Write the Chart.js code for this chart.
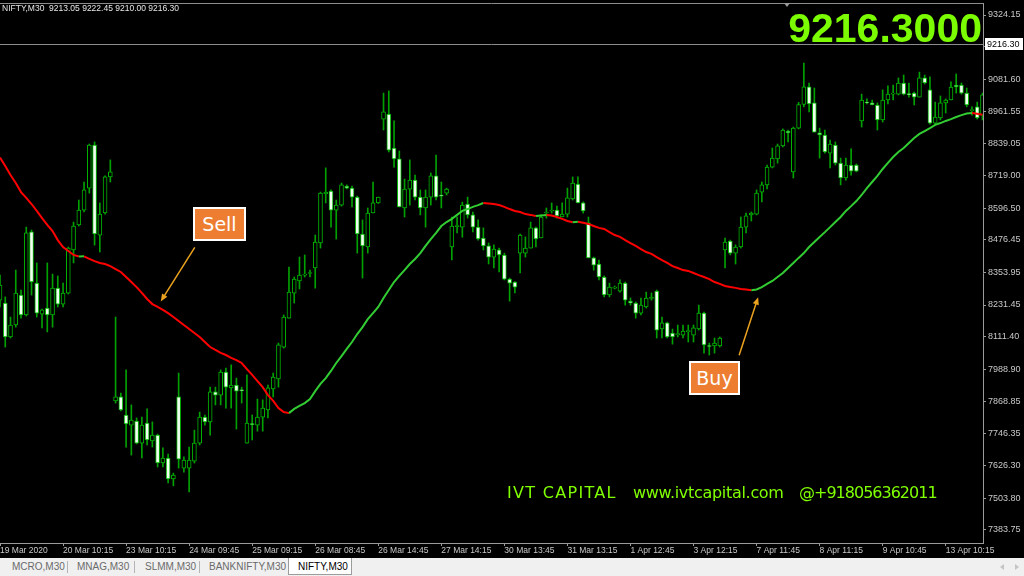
<!DOCTYPE html>
<html>
<head>
<meta charset="utf-8">
<title>NIFTY,M30</title>
<script src="https://cdn.jsdelivr.net/npm/chart.js@4.4.0/dist/chart.umd.min.js"></script>
<style>
  html, body { margin: 0; padding: 0; background: #000; }
  #wrap { position: relative; width: 1024px; height: 576px; overflow: hidden; background: #000;
          font-family: "Liberation Sans", Arial, sans-serif; }
  #chart { position: absolute; left: 0; top: 0; }
  .ov { position: absolute; pointer-events: none; white-space: pre; }
  #head { left: 2px; top: 3px; font-size: 8.5px; line-height: 11px; color: #e6e6e6; }
  #big { right: 42px; top: 8px; font-size: 41px; line-height: 41px; font-weight: bold; color: #7cfc00; }
  #shift { left: 784px; top: 3px; width: 0; height: 0; border-left: 3px solid transparent;
           border-right: 3px solid transparent; border-top: 4px solid #9a9a9a; }
  .tag { background: #ed7d31; border: 2px solid #fff; color: #fff; font-family: "DejaVu Sans", sans-serif;
         font-size: 19px; text-align: center; box-sizing: border-box; height: 34px; line-height: 30px; }
  #sell { left: 193px; top: 207px; width: 53px; }
  #buy { left: 689px; top: 361px; width: 51px; }
  .brand { top: 484px; font-family: "DejaVu Sans", sans-serif; font-size: 16px; line-height: 18px; color: #80ff00; }
  #tabs { position: absolute; left: 0; top: 558px; width: 1024px; height: 18px; background: #f0f0f0;
          font-size: 10px; color: #6a6a6a; }
  #tabs span { position: absolute; top: 3px; line-height: 12px; }
  #tabs .sep { position: absolute; top: 3px; width: 1px; height: 12px; background: #b4b4b4; }
  #tabs .active { position: absolute; left: 288px; top: 0; width: 62px; height: 16px; background: #fff;
                  border: 1px solid #9c9c9c; border-top: none; }
  #tabs .nav { position: absolute; top: 6px; width: 0; height: 0; border-top: 3px solid transparent;
               border-bottom: 3px solid transparent; }
</style>
</head>
<body>
<div id="wrap">
  <canvas id="chart" width="1024" height="558"></canvas>
  <div class="ov" id="head">NIFTY,M30  9213.05 9222.45 9210.00 9216.30</div>
  <div class="ov" id="big">9216.3000</div>
  <div class="ov" id="shift"></div>
  <div class="ov tag" id="sell">Sell</div>
  <div class="ov tag" id="buy">Buy</div>
  <div class="ov brand" style="left:507px;letter-spacing:1.3px">IVT CAPITAL</div>
  <div class="ov brand" style="left:633px;letter-spacing:-0.3px">www.ivtcapital.com</div>
  <div class="ov brand" style="left:799px;letter-spacing:-1px">@+918056362011</div>
  <div id="tabs">
    <span style="left:12px">MCRO,M30</span>
    <div class="sep" style="left:67px"></div>
    <span style="left:77px">MNAG,M30</span>
    <div class="sep" style="left:134px"></div>
    <span style="left:145px">SLMM,M30</span>
    <div class="sep" style="left:199px"></div>
    <span style="left:209px">BANKNIFTY,M30</span>
    <div class="active"></div>
    <span style="left:298px;color:#000">NIFTY,M30</span>
    <div class="nav" style="left:1000px;border-right:4px solid #c4c4c4"></div>
    <div class="nav" style="left:1015px;border-left:4px solid #c4c4c4"></div>
  </div>
</div>
<script>
// NIFTY M30 candles, 19 Mar - 13 Apr 2020
const opens = [
  8250, 8239, 8111, 8156, 8269, 8194, 8507, 8314, 8197, 8220,
  8194, 8295, 8235, 8276, 8439, 8533, 8589, 8672, 8834, 8495,
  8578, 8714, 7870, 7885, 7817, 7779, 7794, 7711, 7787, 7719,
  7741, 7636, 7655, 7576, 7885, 7617, 7617, 7643, 7711, 7809,
  7791, 7904, 7892, 7979, 7919, 7930, 7912, 7711, 7785, 7779,
  7809, 7836, 7915, 7953, 8073, 8182, 8276, 8322, 8344, 8350,
  8371, 8465, 8651, 8661, 8589, 8608, 8680, 8672, 8638, 8499,
  8450, 8578, 8616, 8932, 8951, 8823, 8782, 8597, 8668, 8702,
  8638, 8597, 8638, 8718, 8646, 8653, 8450, 8527, 8525, 8612,
  8571, 8525, 8484, 8454, 8412, 8439, 8420, 8329, 8318, 8427,
  8427, 8446, 8522, 8484, 8578, 8586, 8589, 8563, 8574, 8631,
  8687, 8616, 8541, 8409, 8386, 8337, 8269, 8295, 8284, 8314,
  8246, 8239, 8201, 8224, 8256, 8284, 8141, 8164, 8126, 8120,
  8118, 8131, 8118, 8141, 8201, 8079, 8077, 8077, 8439, 8472,
  8427, 8450, 8525, 8571, 8574, 8657, 8684, 8751, 8782, 8831,
  8887, 8733, 8898, 8987, 9054, 8993, 8880, 8872, 8804, 8834,
  8766, 8710, 8759, 8759, 8925, 8996, 8993, 8985, 8929, 9004,
  9026, 9026, 9068, 9028, 9030, 9015, 9087, 9042, 8917, 8936,
  8993, 9004, 9060, 9060, 9030, 8964, 8978, 8947
];
const highs = [
  8344, 8262, 8186, 8363, 8288, 8525, 8514, 8390, 8216, 8390,
  8348, 8341, 8314, 8450, 8544, 8627, 8695, 8838, 8846, 8616,
  8718, 8778, 8186, 7900, 7987, 7855, 7806, 7809, 7840, 7791,
  7745, 7693, 7670, 7598, 7975, 7659, 7696, 7760, 7828, 7817,
  7922, 7922, 7987, 7994, 8006, 7956, 7922, 7968, 7817, 7877,
  7874, 7930, 7975, 8088, 8194, 8374, 8337, 8412, 8420, 8363,
  8495, 8657, 8748, 8665, 8627, 8691, 8684, 8680, 8642, 8552,
  8597, 8695, 8638, 9030, 9038, 8925, 8812, 8706, 8778, 8721,
  8665, 8665, 8729, 8796, 8695, 8672, 8563, 8563, 8619, 8638,
  8582, 8552, 8522, 8465, 8458, 8446, 8427, 8333, 8320, 8499,
  8488, 8544, 8525, 8571, 8597, 8616, 8604, 8616, 8672, 8714,
  8714, 8620, 8563, 8412, 8401, 8341, 8314, 8303, 8326, 8318,
  8258, 8243, 8258, 8280, 8277, 8288, 8186, 8167, 8141, 8156,
  8156, 8156, 8156, 8231, 8205, 8088, 8107, 8111, 8484, 8476,
  8458, 8563, 8578, 8582, 8665, 8695, 8759, 8823, 8838, 8895,
  8891, 8902, 8995, 9143, 9068, 9049, 8898, 8891, 8853, 8846,
  8785, 8785, 8820, 8763, 9026, 9008, 9004, 8993, 9042, 9057,
  9060, 9087, 9098, 9068, 9034, 9109, 9098, 9091, 8996, 9019,
  9008, 9072, 9102, 9068, 9049, 8978, 8996, 9030
];
const lows = [
  8224, 8073, 8107, 8148, 8182, 8190, 8269, 8186, 8145, 8130,
  8148, 8224, 8224, 8273, 8390, 8529, 8582, 8653, 8457, 8431,
  8574, 8695, 7862, 7832, 7696, 7666, 7708, 7655, 7704, 7696,
  7621, 7621, 7561, 7550, 7617, 7602, 7527, 7636, 7704, 7779,
  7741, 7855, 7855, 7843, 7843, 7764, 7862, 7711, 7723, 7756,
  7756, 7806, 7885, 7922, 8069, 8182, 8239, 8292, 8337, 8337,
  8295, 8446, 8616, 8525, 8480, 8604, 8669, 8601, 8427, 8333,
  8427, 8578, 8614, 8891, 8808, 8751, 8601, 8563, 8608, 8627,
  8571, 8525, 8608, 8627, 8597, 8646, 8401, 8503, 8487, 8559,
  8507, 8476, 8439, 8386, 8371, 8356, 8326, 8246, 8277, 8352,
  8412, 8446, 8450, 8484, 8559, 8578, 8559, 8563, 8563, 8627,
  8616, 8578, 8409, 8363, 8326, 8262, 8262, 8292, 8280, 8231,
  8231, 8182, 8194, 8220, 8250, 8107, 8107, 8107, 8084, 8111,
  8107, 8092, 8092, 8137, 8050, 8043, 8050, 8073, 8371, 8420,
  8386, 8446, 8503, 8548, 8571, 8620, 8669, 8748, 8766, 8827,
  8846, 8710, 8895, 8978, 8959, 8883, 8785, 8804, 8748, 8759,
  8684, 8702, 8721, 8733, 8902, 8989, 8985, 8891, 8921, 8989,
  9004, 9023, 9023, 9015, 8985, 9015, 9064, 8913, 8910, 8929,
  8955, 9004, 9030, 9026, 8978, 8947, 8932, 8929
];
const closes = [
  8307, 8111, 8156, 8276, 8194, 8503, 8318, 8201, 8213, 8194,
  8295, 8235, 8276, 8446, 8529, 8589, 8665, 8834, 8499, 8574,
  8714, 8733, 7885, 7836, 7783, 7798, 7711, 7779, 7723, 7741,
  7636, 7655, 7576, 7591, 7651, 7647, 7647, 7711, 7809, 7791,
  7904, 7892, 7979, 7922, 7930, 7907, 7909, 7787, 7781, 7809,
  7843, 7919, 7960, 8081, 8186, 8280, 8329, 8344, 8348, 8354,
  8469, 8653, 8656, 8589, 8608, 8684, 8672, 8638, 8499, 8454,
  8578, 8616, 8638, 8959, 8815, 8782, 8601, 8668, 8702, 8638,
  8597, 8638, 8718, 8638, 8642, 8668, 8529, 8531, 8608, 8571,
  8525, 8480, 8454, 8412, 8442, 8420, 8329, 8314, 8299, 8495,
  8446, 8522, 8480, 8563, 8582, 8589, 8567, 8574, 8635, 8691,
  8616, 8586, 8409, 8382, 8337, 8269, 8299, 8299, 8314, 8250,
  8239, 8201, 8231, 8258, 8260, 8137, 8164, 8111, 8111, 8124,
  8133, 8135, 8145, 8201, 8081, 8075, 8088, 8107, 8469, 8427,
  8450, 8525, 8567, 8578, 8653, 8684, 8751, 8785, 8831, 8891,
  8880, 8898, 8987, 9054, 8989, 8883, 8872, 8808, 8838, 8766,
  8710, 8759, 8736, 8736, 9004, 8993, 8986, 8929, 9004, 9026,
  9030, 9068, 9026, 9024, 9015, 9087, 9068, 8917, 8940, 8993,
  9004, 9053, 9053, 9030, 8985, 8968, 8936, 9023
];
// moving average drawn over the candles
const maValues = [
  8787, 8755, 8721, 8691, 8657, 8635, 8612, 8586, 8559, 8533,
  8510, 8476, 8450, 8435, 8420, 8414, 8415, 8405, 8397, 8390,
  8386, 8378, 8367, 8356, 8337, 8318, 8299, 8277, 8254, 8235,
  8224, 8213, 8201, 8186, 8171, 8156, 8141, 8126, 8111, 8092,
  8073, 8062, 8051, 8043, 8032, 8024, 8013, 7990, 7968, 7945,
  7922, 7892, 7870, 7843, 7828, 7824, 7840, 7851, 7862, 7877,
  7907, 7934, 7956, 7983, 8013, 8039, 8066, 8092, 8122, 8148,
  8178, 8201, 8224, 8258, 8288, 8318, 8341, 8363, 8386, 8405,
  8427, 8454, 8480, 8503, 8529, 8544, 8556, 8571, 8586, 8593,
  8601, 8608, 8616, 8614, 8612, 8608, 8601, 8593, 8586, 8582,
  8574, 8571, 8567, 8569, 8571, 8569, 8563, 8556, 8548, 8543,
  8545, 8541, 8537, 8529, 8522, 8518, 8506, 8495, 8488, 8476,
  8465, 8454, 8442, 8431, 8424, 8412, 8401, 8390, 8378, 8371,
  8363, 8360, 8352, 8344, 8337, 8329, 8318, 8311, 8303, 8299,
  8296, 8292, 8290, 8287, 8290, 8299, 8311, 8322, 8337, 8352,
  8371, 8390, 8409, 8427, 8450, 8469, 8488, 8506, 8525, 8544,
  8563, 8586, 8604, 8623, 8646, 8672, 8695, 8718, 8744, 8767,
  8789, 8808, 8823, 8842, 8861, 8876, 8887, 8898, 8910, 8917,
  8925, 8932, 8940, 8947, 8953, 8955, 8952, 8948
];
const xLabels = [
  "19 Mar 2020", "20 Mar 10:15", "23 Mar 10:15", "24 Mar 09:45", "25 Mar 09:15",
  "26 Mar 08:45", "26 Mar 14:45", "27 Mar 14:15", "30 Mar 13:45", "31 Mar 13:15",
  "1 Apr 12:45", "3 Apr 12:15", "7 Apr 11:45", "8 Apr 11:15", "9 Apr 10:45", "13 Apr 10:15"
];
const xLabelBars = [0, 12, 24, 36, 48, 60, 72, 84, 96, 108, 120, 132, 144, 156, 168, 180];
const yTicks = [
  7383.75, 7503.80, 7626.30, 7746.35, 7868.85, 7988.90, 8111.40, 8231.45, 8353.95,
  8476.45, 8596.50, 8719.00, 8839.05, 8961.55, 9081.60, 9204.10, 9324.15
];
const lastPrice = 9216.30;
const sellSignal = { bar: 30.6, price: 8245, dx: 34, dy: -54 };
const buySignal = { bar: 144.3, price: 8261, dx: -19, dy: 58 };

const Y_MIN = 7334.7;
const Y_MAX = 9369.4;
const WICK = "#00a000";
const EDGE = "#00b400";
const BEAR_FILL = "#f0fff0";
const BULL_FILL = "#000000";
const MA_UP = "#32cd32";
const MA_DOWN = "#ff0000";
const AXIS = "#9a9a9a";
const LABEL = "#c8c8c8";

const bars = opens.map((_, i) => i);
const wickData = bars.map((i) => ({ x: i, y: [lows[i], highs[i]] }));
const bodyData = bars.map((i) => ({ x: i, y: [opens[i], closes[i]] }));
const bodyFill = bars.map((i) => (closes[i] < opens[i] ? BEAR_FILL : BULL_FILL));
const maData = bars.map((i) => ({ x: i, y: maValues[i] }));

function drawArrow(ctx, x1, y1, x2, y2) {
  const ang = Math.atan2(y2 - y1, x2 - x1);
  const head = 8;
  ctx.beginPath();
  ctx.moveTo(x1, y1);
  ctx.lineTo(x2 - Math.cos(ang) * head * 0.6, y2 - Math.sin(ang) * head * 0.6);
  ctx.stroke();
  ctx.beginPath();
  ctx.moveTo(x2, y2);
  ctx.lineTo(x2 - head * Math.cos(ang - 0.4), y2 - head * Math.sin(ang - 0.4));
  ctx.lineTo(x2 - head * Math.cos(ang + 0.4), y2 - head * Math.sin(ang + 0.4));
  ctx.closePath();
  ctx.fill();
}

const terminalPlugin = {
  id: "terminal",
  beforeDatasetsDraw(chart) {
    const { ctx, chartArea: a, scales } = chart;
    const py = Math.round(scales.y.getPixelForValue(lastPrice)) + 0.5;
    ctx.save();
    ctx.strokeStyle = "#8c8c8c";
    ctx.lineWidth = 1;
    ctx.beginPath();
    ctx.moveTo(a.left, py);
    ctx.lineTo(a.right, py);
    ctx.moveTo(a.left, a.top + 0.5);
    ctx.lineTo(a.right, a.top + 0.5);
    ctx.stroke();
    ctx.restore();
  },
  afterDraw(chart) {
    const { ctx, chartArea: a, scales } = chart;
    ctx.save();
    ctx.strokeStyle = "#eba21f";
    ctx.fillStyle = "#eba21f";
    ctx.lineWidth = 1.5;
    [sellSignal, buySignal].forEach((s) => {
      const tx = scales.x.getPixelForValue(s.bar);
      const ty = scales.y.getPixelForValue(s.price);
      drawArrow(ctx, tx + s.dx, ty + s.dy, tx, ty);
    });
    // last price box on the price scale
    const py = Math.round(scales.y.getPixelForValue(lastPrice));
    ctx.fillStyle = "#ffffff";
    ctx.fillRect(a.right + 2, py - 6, 38, 12);
    ctx.fillStyle = "#000000";
    ctx.font = '9px "Liberation Sans", Arial, sans-serif';
    ctx.textBaseline = "middle";
    ctx.fillText(lastPrice.toFixed(2), a.right + 4, py + 0.5);
    ctx.restore();
  },
};

new Chart(document.getElementById("chart"), {
  type: "bar",
  data: {
    datasets: [
      {
        type: "line",
        data: maData,
        borderColor: MA_DOWN,
        borderWidth: 2,
        pointRadius: 0,
        tension: 0,
        order: 0,
        segment: {
          borderColor: (c) => (c.p1.parsed.y > c.p0.parsed.y ? MA_UP : MA_DOWN),
        },
      },
      {
        data: bodyData,
        backgroundColor: bodyFill,
        borderColor: EDGE,
        borderWidth: 1,
        borderSkipped: false,
        barThickness: 4,
        grouped: false,
        order: 1,
      },
      {
        data: wickData,
        backgroundColor: WICK,
        borderWidth: 0,
        barThickness: 1,
        grouped: false,
        order: 2,
      },
    ],
  },
  options: {
    responsive: false,
    animation: false,
    layout: { padding: { top: 3, left: 0, right: 0, bottom: 0 } },
    plugins: { legend: { display: false }, tooltip: { enabled: false } },
    scales: {
      x: {
        type: "linear",
        position: "bottom",
        offset: false,
        min: 0,
        max: 187.1,
        afterBuildTicks: (s) => {
          s.ticks = xLabelBars.map((v) => ({ value: v }));
        },
        afterFit: (s) => {
          s.height = 15;
          s.paddingLeft = 0;
          s.paddingRight = 0;
        },
        ticks: {
          callback: (v) => xLabels[xLabelBars.indexOf(v)],
          align: "start",
          autoSkip: false,
          maxRotation: 0,
          padding: 0,
          color: LABEL,
          font: { size: 8.5, family: '"Liberation Sans", Arial, sans-serif' },
        },
        grid: { drawOnChartArea: false, offset: false, tickLength: 3, color: AXIS },
        border: { display: true, color: AXIS },
      },
      y: {
        position: "right",
        min: Y_MIN,
        max: Y_MAX,
        afterBuildTicks: (s) => {
          s.ticks = yTicks.map((v) => ({ value: v }));
        },
        afterFit: (s) => {
          s.width = 41;
          s.paddingTop = 0;
          s.paddingBottom = 0;
        },
        ticks: {
          callback: (v) => v.toFixed(2),
          padding: 2,
          color: LABEL,
          font: { size: 9, family: '"Liberation Sans", Arial, sans-serif' },
        },
        grid: { drawOnChartArea: false, tickLength: 3, color: AXIS },
        border: { display: true, color: AXIS },
      },
    },
  },
  plugins: [terminalPlugin],
});
</script>
</body>
</html>
